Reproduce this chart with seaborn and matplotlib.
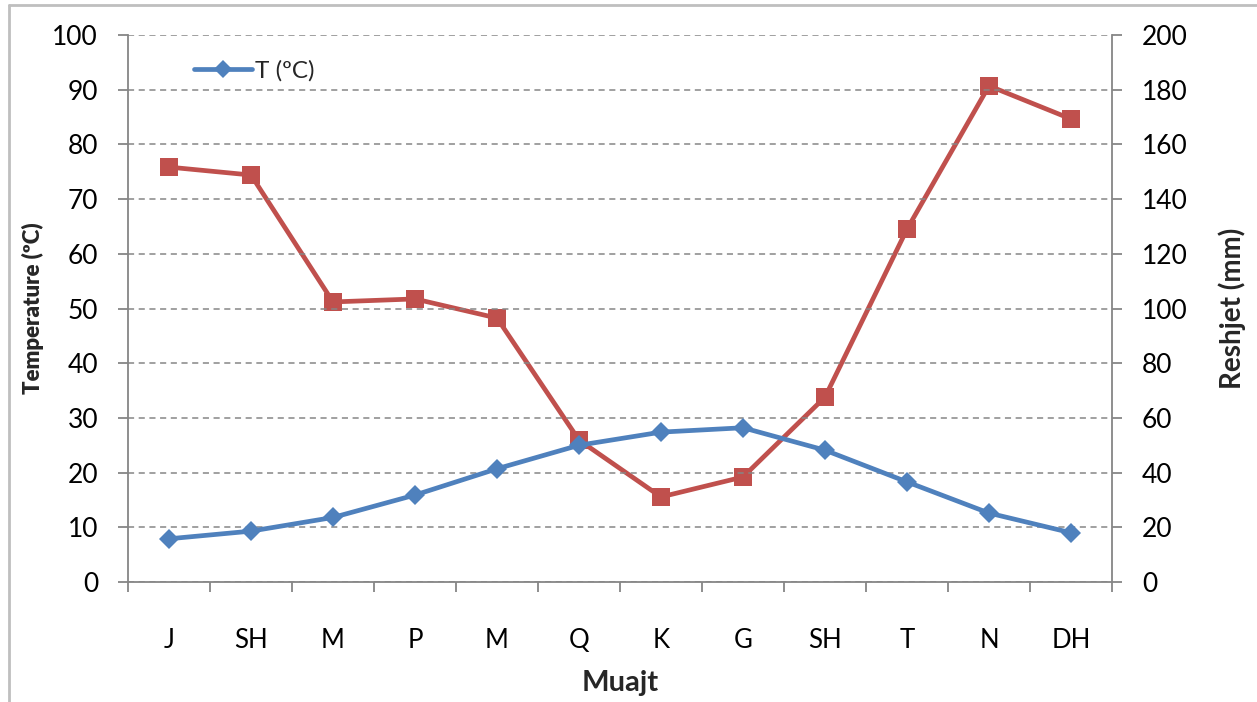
import matplotlib
matplotlib.use("Agg")
import matplotlib.pyplot as plt
import seaborn as sns
import pandas as pd
import numpy as np
from matplotlib.lines import Line2D
from matplotlib.ticker import MultipleLocator, FixedLocator

months = ["J", "SH", "M", "P", "M", "Q", "K", "G", "SH", "T", "N", "DH"]
temperature = [7.9, 9.3, 11.8, 15.9, 20.7, 25.0, 27.4, 28.2, 24.1, 18.3, 12.6, 9.0]
precipitation = [151.7, 148.8, 102.4, 103.5, 96.5, 51.9, 31.1, 38.4, 67.6, 129.0, 181.4, 169.3]

sns.set_style("white")
plt.rcParams['font.family'] = ['Lato', 'DejaVu Sans']

BLUE = "#4F81BD"
RED = "#C0504D"
GRAY = "#868686"

df = pd.DataFrame({"idx": np.arange(len(months)), "T": temperature, "R": precipitation})

fig = plt.figure(figsize=(12.57, 7.02), dpi=100)
ax = fig.add_axes([128/1257, 1-582/702, (1112-128)/1257, (582-35)/702])
ax2 = ax.twinx()

sns.lineplot(data=df, x="idx", y="T", ax=ax, color=BLUE, lw=3.4, marker="D",
             markersize=10, markeredgewidth=0, zorder=3)
sns.lineplot(data=df, x="idx", y="R", ax=ax2, color=RED, lw=3.4, marker="s",
             markersize=13, markeredgewidth=0, zorder=3)

ax.set_xlim(-0.5, len(months) - 0.5)
ax.set_ylim(0, 100)
ax2.set_ylim(0, 200)
ax.yaxis.set_major_locator(MultipleLocator(10))
ax2.yaxis.set_major_locator(MultipleLocator(20))

ax.set_xticks(np.arange(len(months)))
ax.set_xticklabels(months)
ax.xaxis.set_minor_locator(FixedLocator(np.arange(-0.5, len(months), 1.0)))
ax.tick_params(axis="x", which="major", length=0, pad=33, labelsize=18.5, labelcolor="black")
ax.tick_params(axis="x", which="minor", length=7.5, width=1.3, color=GRAY, direction="out", bottom=True)
ax.tick_params(axis="y", which="major", length=7.5, width=1.3, color=GRAY, direction="out",
               pad=14, labelsize=19, labelcolor="black", left=True)
ax2.tick_params(axis="y", which="major", length=7.5, width=1.3, color=GRAY, direction="out",
                pad=14, labelsize=19, labelcolor="black", right=True)

ax.grid(axis="y", color=GRAY, linestyle=(0, (4, 3)), linewidth=1.1)
ax.set_axisbelow(True)
ax.set_zorder(ax2.get_zorder() + 1)
ax.patch.set_visible(False)

for a in (ax, ax2):
    a.spines["top"].set_visible(False)
    for s in ("left", "right", "bottom"):
        a.spines[s].set_color(GRAY)
        a.spines[s].set_linewidth(1.3)
ax.spines["right"].set_visible(False)
ax2.spines["left"].set_visible(False)
ax2.spines["bottom"].set_visible(False)

ax.set_xlabel("Muajt", fontsize=21, fontweight="bold", labelpad=12)
ax.set_ylabel("Temperature (ºC)", fontsize=16, fontweight="heavy", labelpad=6)
ax2.set_ylabel("Reshjet (mm)", fontsize=20, fontweight="bold", labelpad=22)

handle = Line2D([], [], color=BLUE, lw=3.4, marker="D", markersize=9, markeredgewidth=0)
leg = ax.legend([handle], ["T (ºC)"], loc="upper left", bbox_to_anchor=(0.045, 0.995),
                frameon=False, fontsize=17.5, handlelength=2.4, handletextpad=0.1)

# chart area border (top and left)
fig.add_artist(Line2D([9/1257, 9/1257], [0, 1-5/702], transform=fig.transFigure, color="#BFBFBF", lw=2))
fig.add_artist(Line2D([9/1257, 1], [1-5/702, 1-5/702], transform=fig.transFigure, color="#BFBFBF", lw=2))

fig.savefig("out.png", dpi=100, facecolor="white")
